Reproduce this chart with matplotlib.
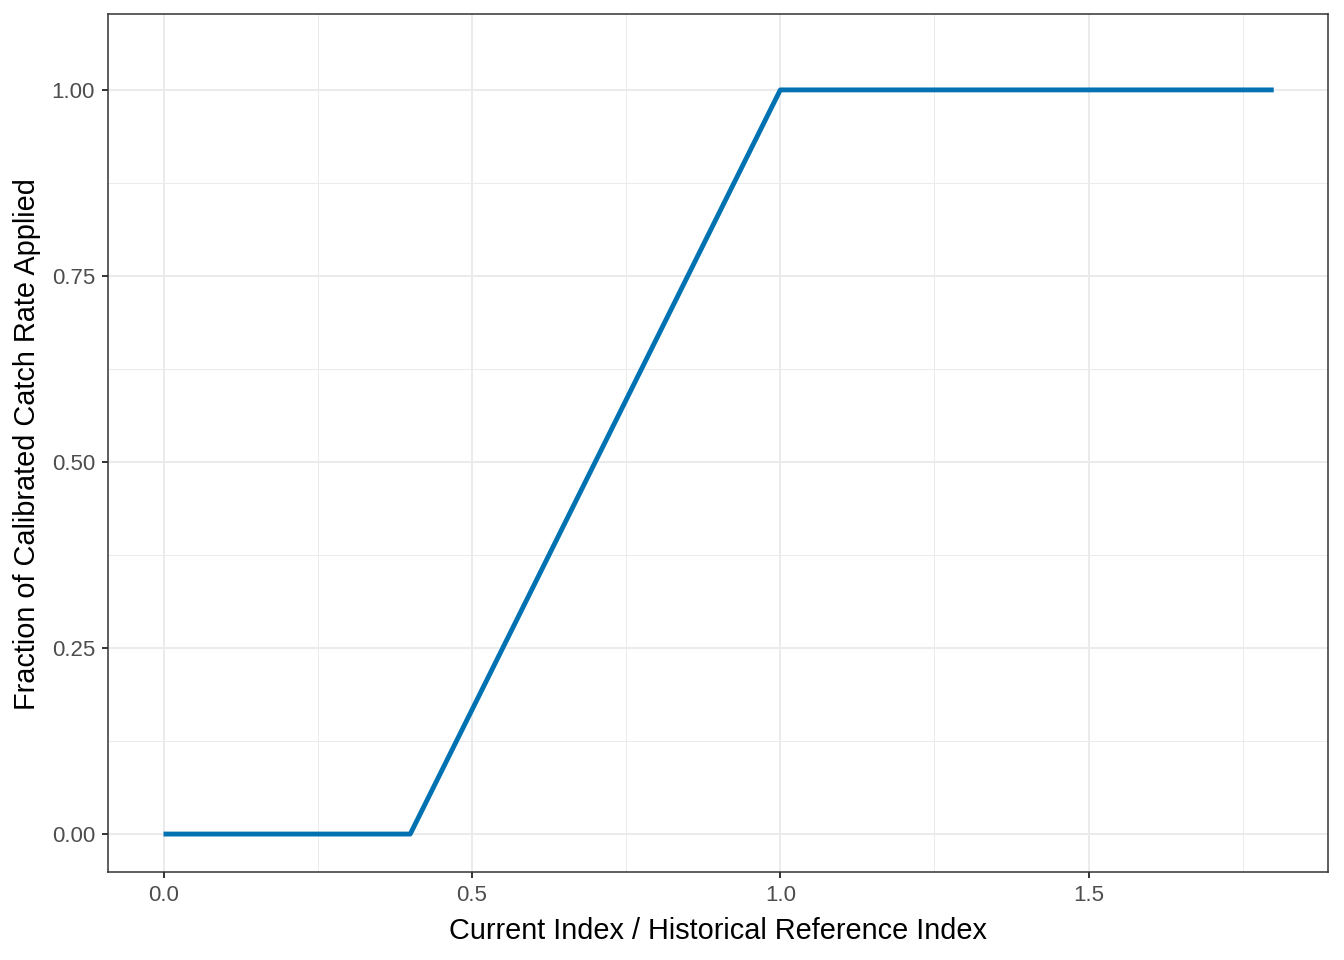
import matplotlib
matplotlib.use("Agg")
import matplotlib.pyplot as plt
from matplotlib.ticker import MultipleLocator

# Curva de controle (pontos de quebra)
ratio = [0.0, 0.4, 1.0, 1.8]
fraction = [0.0, 0.0, 1.0, 1.0]

x_ticks = [0.0, 0.5, 1.0, 1.5]
x_labels = ["0.0", "0.5", "1.0", "1.5"]
y_ticks = [0.0, 0.25, 0.5, 0.75, 1.0]
y_labels = ["0.00", "0.25", "0.50", "0.75", "1.00"]

plt.rcParams["font.family"] = ["Liberation Sans", "DejaVu Sans"]

fig = plt.figure(figsize=(13.44, 9.6), dpi=100)
ax = fig.add_axes([108 / 1344, 1 - 872 / 960, (1328 - 108) / 1344, (872 - 14) / 960])

ax.plot(ratio, fraction, color="#0072B2", linewidth=3.5, solid_capstyle="butt", zorder=3)

ax.set_xlim(-0.09, 1.888)
ax.set_ylim(-0.051, 1.102)
ax.set_xticks(x_ticks)
ax.set_xticklabels(x_labels)
ax.set_yticks(y_ticks)
ax.set_yticklabels(y_labels)
ax.xaxis.set_minor_locator(MultipleLocator(0.25))
ax.yaxis.set_minor_locator(MultipleLocator(0.125))

ax.grid(which="major", color="#EBEBEB", linewidth=1.4, zorder=0)
ax.grid(which="minor", color="#EBEBEB", linewidth=0.7, zorder=0)
ax.set_axisbelow(True)

for s in ax.spines.values():
    s.set_color("#333333")
    s.set_linewidth(1.1)

ax.tick_params(which="major", length=4.3, width=1.4, color="#333333",
               labelsize=16, labelcolor="#4D4D4D", pad=5)
ax.tick_params(which="minor", length=0)

# Títulos dos eixos
fig.text(718 / 1344, 1 - 939 / 960, "Current Index / Historical Reference Index",
         fontsize=20.8, color="black", ha="center", va="baseline")
fig.text(27 / 1344, 1 - 444 / 960, "Fraction of Calibrated Catch Rate Applied",
         fontsize=20.8, color="black", ha="center", va="center", rotation=90)

fig.savefig("out.png", dpi=100)
